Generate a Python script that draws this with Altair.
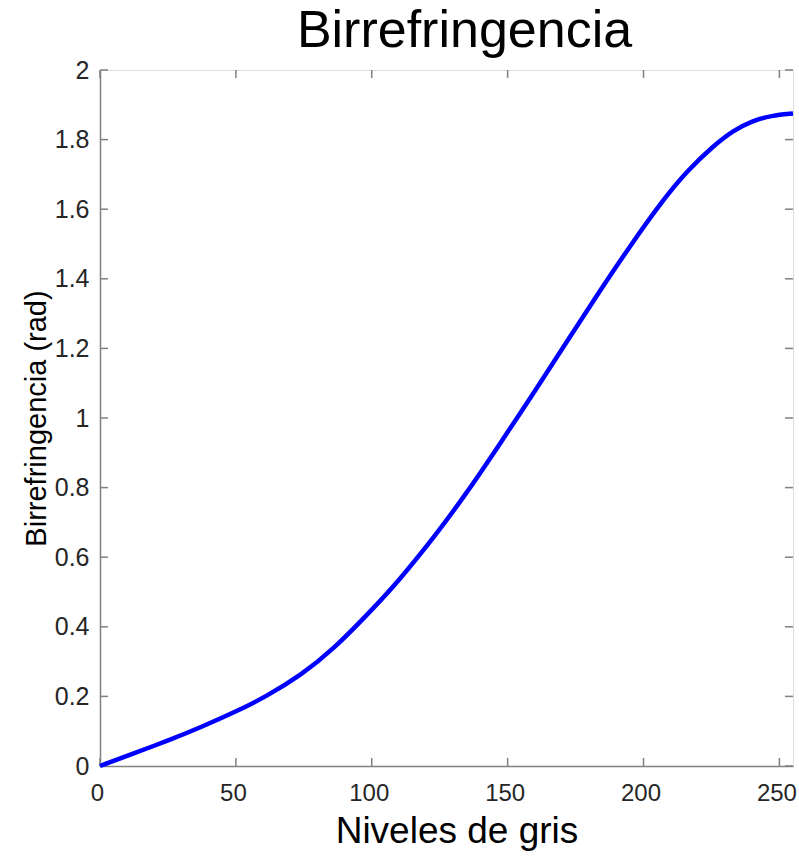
import altair as alt
import pandas as pd

gris = [0, 12, 25, 37, 50, 61, 74, 86, 100, 110, 123, 135, 147, 160, 172, 184, 195, 207, 216, 226, 233, 240, 247, 255]
birr = [0.0, 0.035, 0.073, 0.111, 0.156, 0.199, 0.261, 0.336, 0.448, 0.533, 0.658, 0.785, 0.924, 1.077, 1.222, 1.366, 1.494, 1.625, 1.710, 1.784, 1.826, 1.854, 1.869, 1.875]

x_ticks = [0, 50, 100, 150, 200, 250]
y_ticks = [0, 0.2, 0.4, 0.6, 0.8, 1.0, 1.2, 1.4, 1.6, 1.8, 2.0]

W, H = 693, 696
FONT = "Liberation Sans"
GRAY = "#808080"
TXT = "#262626"

df = pd.DataFrame({"g": gris, "b": birr})
dfx = pd.DataFrame({"t": x_ticks})
dfy = pd.DataFrame({"t": y_ticks})

xs = alt.Scale(domain=[0, 255], nice=False, zero=False)
ys = alt.Scale(domain=[0, 2], nice=False)

line = alt.Chart(df).mark_line(color="#0000FF", strokeWidth=4.5, interpolate="basis").encode(
    x=alt.X("g:Q", scale=xs, title="Niveles de gris",
            axis=alt.Axis(values=x_ticks, ticks=False, labelFontSize=24, labelPadding=15,
                          labelOffset=-3,
                          titleFontSize=37, titlePadding=8, titleFontWeight="normal",
                          titleX=W / 2 + 10,
                          labelFont=FONT, titleFont=FONT, labelColor=TXT, titleColor="#000000",
                          domainColor=GRAY, domainWidth=1.5, grid=False, labelFlush=False)),
    y=alt.Y("b:Q", scale=ys, title="Birrefringencia (rad)",
            axis=alt.Axis(values=y_ticks, ticks=False, labelFontSize=25, labelPadding=11,
                          titleFontSize=29, titlePadding=3, titleFontWeight="normal",
                          labelFont=FONT, titleFont=FONT, labelColor=TXT, titleColor="#000000",
                          domainColor=GRAY, domainWidth=1.5, grid=False, labelFlush=False,
                          labelExpr="format(datum.value, '.1~f')")),
)

tick_style = dict(color=GRAY, strokeWidth=1.5)
xb = alt.Chart(dfx).mark_rule(**tick_style).encode(x=alt.X("t:Q", scale=xs), y=alt.value(H), y2=alt.value(H - 8))
xt = alt.Chart(dfx).mark_rule(**tick_style).encode(x=alt.X("t:Q", scale=xs), y=alt.value(0), y2=alt.value(8))
yl = alt.Chart(dfy).mark_rule(**tick_style).encode(y=alt.Y("t:Q", scale=ys), x=alt.value(0), x2=alt.value(8))
yr = alt.Chart(dfy).mark_rule(**tick_style).encode(y=alt.Y("t:Q", scale=ys), x=alt.value(W), x2=alt.value(W - 8))

chart = alt.layer(xb, xt, yl, yr, line).properties(
    width=W, height=H,
    title=alt.TitleParams("Birrefringencia", fontSize=52, font=FONT, fontWeight="normal",
                          color="#000000", anchor="middle", offset=0, dx=18),
    autosize=alt.AutoSizeParams(type="none"),
    padding={"left": 100, "top": 70, "right": 6, "bottom": 93},
).configure_view(stroke=GRAY, strokeWidth=1.5).configure(background="white")

chart.save("out.html", embed_options={"renderer": "svg", "actions": False})
